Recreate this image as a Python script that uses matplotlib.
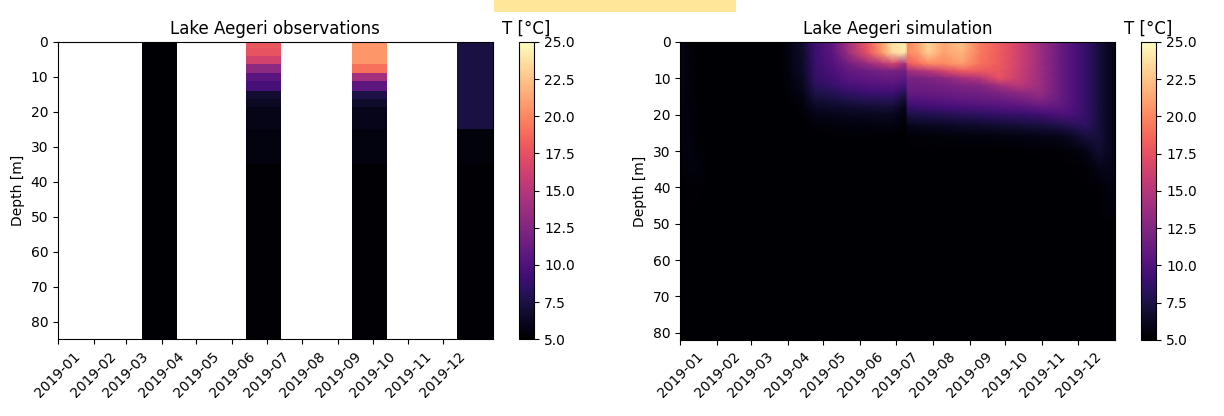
import numpy as np
import matplotlib
matplotlib.use("Agg")
import matplotlib.pyplot as plt
import matplotlib.dates as mdates
from matplotlib.patches import Rectangle
from datetime import datetime

# ---------------- data ----------------
month_ticks = ["2019-01", "2019-02", "2019-03", "2019-04", "2019-05", "2019-06",
               "2019-07", "2019-08", "2019-09", "2019-10", "2019-11", "2019-12"]

# observations: column edges (dates) and depth-layer edges
obs_date_edges = ["2019-01-01", "2019-03-15", "2019-04-14", "2019-06-13", "2019-07-13",
                  "2019-09-13", "2019-10-13", "2019-12-13", "2020-01-13"]
obs_depth_edges = [0, 1.6, 3.9, 6.4, 8.8, 11.2, 13.9, 16.2, 18.7, 25, 35, 85]
obs_mar = [4.9, 4.9, 4.9, 4.9, 4.9, 4.9, 4.9, 4.9, 4.9, 4.9, 4.9]
obs_jun = [17.9, 17.6, 16.4, 13.0, 10.5, 9.6, 6.8, 6.4, 5.9, 5.6, 5.1]
obs_sep = [20.6, 20.6, 20.6, 19.0, 14.2, 10.7, 7.5, 6.6, 6.0, 5.6, 5.1]
obs_dec = [7.4, 7.4, 7.4, 7.4, 7.4, 7.4, 7.4, 7.4, 7.4, 5.4, 5.1]

# simulation: temperature profiles at selected dates
sim_depths = [0, 3, 6, 8, 10, 12, 14, 16, 18, 20, 23, 26, 30, 35, 40, 50, 82]
sim_dates = ["2019-01-01", "2019-01-08", "2019-01-16", "2019-01-25", "2019-03-25",
             "2019-04-02", "2019-04-14", "2019-04-24", "2019-05-09", "2019-05-21",
             "2019-06-07", "2019-06-19", "2019-06-28", "2019-07-09", "2019-07-11",
             "2019-07-20", "2019-07-28", "2019-08-10", "2019-08-25", "2019-09-10",
             "2019-09-26", "2019-10-13", "2019-10-30", "2019-11-16", "2019-11-28",
             "2019-12-08", "2019-12-18", "2019-12-26", "2020-01-01"]
sim_temp = [
    [6.0, 6.0, 5.9, 5.9, 5.9, 5.8, 5.8, 5.8, 5.7, 5.7, 5.6, 5.6, 5.5, 5.3, 5.0, 4.9, 4.9],
    [5.4, 5.4, 5.4, 5.4, 5.4, 5.4, 5.4, 5.4, 5.4, 5.5, 5.6, 5.7, 5.6, 5.4, 5.1, 4.9, 4.9],
    [5.0, 5.0, 5.0, 5.0, 5.0, 5.0, 5.0, 5.0, 5.0, 5.0, 5.0, 5.1, 5.3, 5.5, 5.2, 4.9, 4.9],
    [4.9, 4.9, 4.9, 4.9, 4.9, 4.9, 4.9, 4.9, 4.9, 4.9, 4.9, 4.9, 4.9, 4.9, 4.9, 4.9, 4.9],
    [4.9, 4.9, 4.9, 4.9, 4.9, 4.9, 4.9, 4.9, 4.9, 4.9, 4.9, 4.9, 4.9, 4.9, 4.9, 4.9, 4.9],
    [5.7, 5.7, 5.6, 5.6, 5.5, 5.4, 5.3, 5.2, 5.1, 5.0, 4.9, 4.9, 4.9, 4.9, 4.9, 4.9, 4.9],
    [6.8, 6.7, 6.6, 6.5, 6.4, 6.2, 6.0, 5.7, 5.4, 5.2, 5.0, 4.9, 4.9, 4.9, 4.9, 4.9, 4.9],
    [9.0, 9.0, 8.9, 8.8, 8.6, 8.2, 7.6, 6.9, 6.3, 5.8, 5.3, 5.0, 4.9, 4.9, 4.9, 4.9, 4.9],
    [10.8, 10.6, 10.2, 9.8, 9.4, 8.8, 8.0, 7.2, 6.5, 6.0, 5.4, 5.1, 4.9, 4.9, 4.9, 4.9, 4.9],
    [14.0, 13.5, 11.5, 10.8, 10.4, 9.6, 8.6, 7.6, 6.7, 6.1, 5.5, 5.1, 4.9, 4.9, 4.9, 4.9, 4.9],
    [18.0, 17.5, 13.5, 11.5, 10.8, 10.0, 9.0, 7.9, 6.9, 6.2, 5.5, 5.1, 4.9, 4.9, 4.9, 4.9, 4.9],
    [21.0, 20.5, 15.0, 11.8, 11.0, 10.2, 9.2, 8.0, 7.0, 6.3, 5.6, 5.1, 4.9, 4.9, 4.9, 4.9, 4.9],
    [24.0, 23.5, 16.5, 12.0, 11.2, 10.3, 9.2, 8.0, 7.0, 6.2, 5.6, 5.1, 4.9, 4.9, 4.9, 4.9, 4.9],
    [24.5, 24.0, 14.0, 11.5, 10.8, 9.5, 8.0, 6.8, 6.0, 5.5, 5.2, 5.0, 4.9, 4.9, 4.9, 4.9, 4.9],
    [20.0, 20.0, 18.0, 14.0, 12.0, 11.5, 11.0, 10.0, 8.8, 7.5, 6.0, 5.3, 5.0, 4.9, 4.9, 4.9, 4.9],
    [21.5, 21.0, 19.0, 14.5, 12.0, 11.5, 11.0, 10.2, 9.0, 7.7, 6.1, 5.3, 5.0, 4.9, 4.9, 4.9, 4.9],
    [23.5, 23.0, 20.0, 15.0, 12.3, 11.6, 11.1, 10.3, 9.1, 7.8, 6.2, 5.3, 5.0, 4.9, 4.9, 4.9, 4.9],
    [21.5, 21.0, 20.0, 16.5, 12.8, 11.8, 11.2, 10.5, 9.3, 8.0, 6.3, 5.4, 5.0, 4.9, 4.9, 4.9, 4.9],
    [22.5, 22.0, 21.0, 18.0, 14.0, 12.3, 11.5, 10.8, 9.6, 8.2, 6.5, 5.5, 5.0, 4.9, 4.9, 4.9, 4.9],
    [19.5, 19.3, 19.0, 18.0, 15.0, 12.5, 11.6, 11.0, 9.8, 8.4, 6.6, 5.5, 5.0, 4.9, 4.9, 4.9, 4.9],
    [18.2, 18.1, 18.0, 17.8, 17.5, 14.0, 12.2, 11.2, 10.0, 8.6, 6.8, 5.6, 5.0, 4.9, 4.9, 4.9, 4.9],
    [16.2, 16.2, 16.1, 16.0, 15.8, 15.2, 13.0, 11.6, 10.3, 8.8, 7.0, 5.7, 5.1, 4.9, 4.9, 4.9, 4.9],
    [13.8, 13.8, 13.8, 13.8, 13.8, 13.7, 13.5, 12.5, 10.8, 9.2, 7.2, 5.8, 5.1, 4.9, 4.9, 4.9, 4.9],
    [11.2, 11.2, 11.2, 11.2, 11.2, 11.2, 11.2, 11.1, 10.8, 9.8, 7.6, 6.0, 5.2, 4.9, 4.9, 4.9, 4.9],
    [9.8, 9.8, 9.8, 9.8, 9.8, 9.8, 9.8, 9.8, 9.8, 9.6, 8.2, 6.5, 5.4, 5.1, 4.9, 4.9, 4.9],
    [8.6, 8.6, 8.6, 8.6, 8.6, 8.6, 8.6, 8.6, 8.6, 8.6, 8.4, 7.2, 5.8, 5.2, 4.9, 4.9, 4.9],
    [7.2, 7.2, 7.2, 7.2, 7.2, 7.2, 7.2, 7.2, 7.2, 7.2, 7.2, 7.2, 6.8, 5.8, 5.2, 4.9, 4.9],
    [6.3, 6.3, 6.3, 6.3, 6.3, 6.3, 6.3, 6.3, 6.3, 6.3, 6.3, 6.3, 6.3, 6.0, 5.5, 5.0, 4.9],
    [5.8, 5.8, 5.8, 5.8, 5.8, 5.8, 5.8, 5.8, 5.8, 5.8, 5.8, 5.8, 5.8, 5.8, 5.5, 5.1, 4.9],
]

cbar_ticks = [5.0, 7.5, 10.0, 12.5, 15.0, 17.5, 20.0, 22.5, 25.0]
vmin, vmax = 5.0, 25.0

# ---------------- plotting ----------------
def to_num(strs):
    return mdates.date2num([datetime.strptime(s, "%Y-%m-%d") for s in strs])

tick_nums = mdates.date2num([datetime.strptime(s, "%Y-%m") for s in month_ticks])

fig = plt.figure(figsize=(12.24, 4.16), dpi=100)

# highlight band at top
fig.patches.append(Rectangle((0.4036, 0.972), 0.1977, 0.03, transform=fig.transFigure,
                             facecolor="#FFE699", edgecolor="none", zorder=0))

ax1 = fig.add_axes([0.0474, 0.1844, 0.3551, 0.7147])
cax1 = fig.add_axes([0.4240, 0.1844, 0.0125, 0.7147])
ax2 = fig.add_axes([0.5558, 0.1827, 0.3552, 0.7164])
cax2 = fig.add_axes([0.9322, 0.1827, 0.0125, 0.7164])

# observations
nan_col = [np.nan] * len(obs_mar)
obs_grid = np.array([nan_col, obs_mar, nan_col, obs_jun, nan_col, obs_sep, nan_col, obs_dec]).T
m1 = ax1.pcolormesh(to_num(obs_date_edges), obs_depth_edges, obs_grid,
                    cmap="magma", vmin=vmin, vmax=vmax, shading="flat")
ax1.set_ylim(obs_depth_edges[-1], 0)
ax1.set_title("Lake Aegeri observations")
ax1.set_ylabel("Depth [m]")

# simulation
X, Y = np.meshgrid(to_num(sim_dates), sim_depths)
C = np.array(sim_temp).T
m2 = ax2.pcolormesh(X, Y, C, cmap="magma", vmin=vmin, vmax=vmax, shading="gouraud")
ax2.set_ylim(sim_depths[-1], 0)
ax2.set_title("Lake Aegeri simulation")
ax2.set_ylabel("Depth [m]")

for ax in (ax1, ax2):
    ax.xaxis_date()
    ax.set_xticks(tick_nums)
    ax.set_xticklabels(month_ticks, rotation=45, ha="center")
    ax.set_yticks(np.arange(0, 81, 10))

ax1.set_xlim(to_num(obs_date_edges)[0], to_num(obs_date_edges)[-1])
ax2.set_xlim(to_num(sim_dates)[0], to_num(sim_dates)[-1])

for m, cax in ((m1, cax1), (m2, cax2)):
    cb = fig.colorbar(m, cax=cax)
    cb.set_ticks(cbar_ticks)
    cb.set_ticklabels([f"{t:.1f}" for t in cbar_ticks])
    cax.set_title("T [°C]")

fig.savefig("out.png", dpi=100)
